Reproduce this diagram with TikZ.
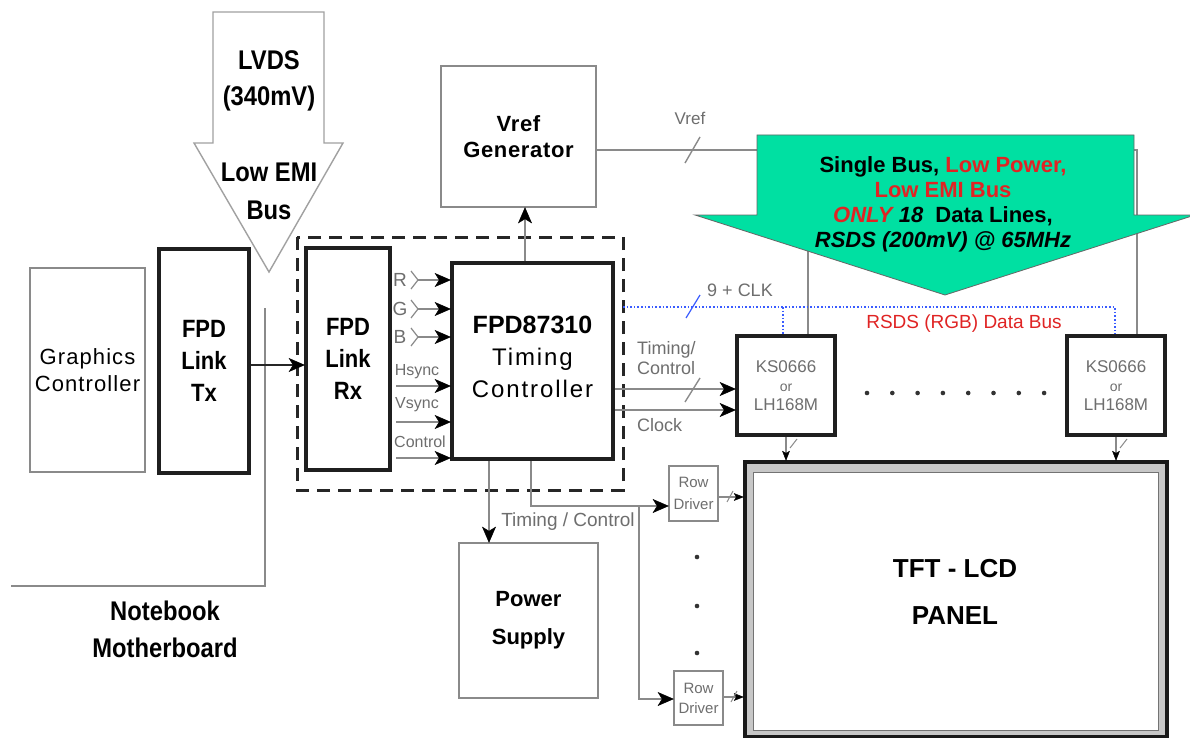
\documentclass[tikz,border=0pt]{standalone}
\usepackage{fontspec}
\setmainfont{Liberation Sans}
\newfontfamily\nsans[FakeStretch=0.88]{Liberation Sans}
\newfontfamily\wsans[LetterSpace=3]{Liberation Sans}
\usetikzlibrary{arrows.meta}
\definecolor{lgrey}{HTML}{8A8A8A}
\definecolor{tgrey}{HTML}{6E6E6E}
\definecolor{mint}{RGB}{0,224,162}
\definecolor{bred}{HTML}{E02424}
\definecolor{bblue}{HTML}{3A5CFF}
\newcommand{\fsz}[2]{\fontsize{#1pt}{#2pt}\selectfont}
\pgfarrowsdeclare{bigtip}{bigtip}{\pgfarrowsleftextend{-14pt}\pgfarrowsrightextend{1pt}}{%
  \pgfsetdash{}{0pt}\pgfsetlinewidth{0.5pt}%
  \pgfpathmoveto{\pgfpoint{1pt}{0pt}}%
  \pgfpathlineto{\pgfpoint{-14pt}{6.5pt}}%
  \pgfpathlineto{\pgfpoint{-10pt}{0pt}}%
  \pgfpathlineto{\pgfpoint{-14pt}{-6.5pt}}%
  \pgfpathclose\pgfsetfillcolor{black}\pgfsetstrokecolor{black}\pgfusepathqfillstroke}
\pgfarrowsdeclare{smalltip}{smalltip}{\pgfarrowsleftextend{-8pt}\pgfarrowsrightextend{1pt}}{%
  \pgfsetdash{}{0pt}\pgfsetlinewidth{0.4pt}%
  \pgfpathmoveto{\pgfpoint{1pt}{0pt}}%
  \pgfpathlineto{\pgfpoint{-8pt}{3.5pt}}%
  \pgfpathlineto{\pgfpoint{-6pt}{0pt}}%
  \pgfpathlineto{\pgfpoint{-8pt}{-3.5pt}}%
  \pgfpathclose\pgfsetfillcolor{black}\pgfsetstrokecolor{black}\pgfusepathqfillstroke}
\begin{document}
\begin{tikzpicture}[x=1pt,y=-1pt,
  box/.style={draw=lgrey, line width=1.6pt, inner sep=0pt, align=center},
  tbox/.style={draw=black!88, line width=3.5pt, inner sep=0pt, align=center},
  lbl/.style={text=tgrey, inner sep=0pt},
  gline/.style={draw=lgrey, line width=1.6pt},
  arr/.style={gline, -bigtip},
  sarr/.style={gline, line width=1.2pt, -smalltip},
  bline/.style={draw=black!85, line width=2.8pt},
  slash/.style={draw=lgrey, line width=1.4pt},
  bdot/.style={draw=bblue, line width=1.6pt, dotted},
]
\useasboundingbox[fill=white] (0,0) rectangle (1190,738);

% ---- background Vref lines (behind green arrow)
\node[box, minimum width=155pt, minimum height=141pt, font=\wsans\bfseries\fsz{22}{26}] (vref) at (518.5,136.5) {Vref\\Generator};
\node[tbox, minimum width=98pt, minimum height=99pt, text=tgrey, font=\fsz{17}{19}] (ksL) at (786,385.5) {KS0666\\{\fsz{14}{19}or}\\LH168M};
\node[tbox, minimum width=98pt, minimum height=99pt, text=tgrey, font=\fsz{17}{19}] (ksR) at (1116,385.5) {KS0666\\{\fsz{14}{19}or}\\LH168M};
\draw[gline] (vref.east |- 0,150) -- (1137,150) -- (1137,0 |- ksR.north);
\draw[gline] (808,150) -- (808,0 |- ksL.north);
\draw[slash] (685,163) -- (700,137);
\node[lbl, font=\fsz{17}{20}] (vreflbl) at (690,118) {Vref};

% ---- green arrow
\draw[fill=mint, draw=black!60, line width=0.8pt] (757,135) -- (1134,135) -- (1134,215) -- (1195,215) -- (945,295) -- (695,215) -- (757,215) -- cycle;
\node[font=\bfseries\fsz{22}{25}, align=center, inner sep=0pt] (gtxt) at (943,204)
  {Single Bus, \textcolor{bred}{Low Power,}\\\textcolor{bred}{Low EMI Bus}\\\textcolor{bred}{\itshape ONLY} {\itshape 18}\ \ Data Lines,\\\itshape RSDS (200mV) @ 65MHz};

% ---- LVDS arrow
\draw[draw=lgrey!80, line width=1.4pt] (213,12) -- (324,12) -- (324,143) -- (343,143) -- (269,272) -- (194,143) -- (213,143) -- cycle;
\node[font=\nsans\bfseries\fsz{27}{36}, align=center, inner sep=0pt] (lvds) at (269,81) {LVDS\\(340mV)};
\node[font=\nsans\bfseries\fsz{27}{38}, align=center, inner sep=0pt] (lemi) at (269,191) {Low EMI\\Bus};

% ---- motherboard
\draw[gline] (265,308) -- (265,586) -- (11,586);
\node[font=\nsans\bfseries\fsz{27}{37}, align=center, inner sep=0pt] (nb) at (165,629) {Notebook\\Motherboard};

\node[box, minimum width=115pt, minimum height=204pt, font=\addfontfeature{LetterSpace=5}\fsz{22}{27}] (gc) at (87.5,370) {Graphics\\Controller};
\node[tbox, minimum width=90pt, minimum height=224pt, font=\nsans\bfseries\fsz{25}{32}] (tx) at (204,361) {FPD\\Link\\Tx};

% ---- dashed box and inner blocks
\draw[draw=black!85, line width=3pt, dash pattern=on 13pt off 8pt] (297,237) rectangle (623,490);
\node[tbox, minimum width=84pt, minimum height=222pt, font=\nsans\bfseries\fsz{25}{32}] (rx) at (348,359) {FPD\\Link\\Rx};
\node[tbox, minimum width=161pt, minimum height=196pt] (tc) at (532.5,361) {};
\node[font=\addfontfeature{LetterSpace=8}\fsz{24}{32}, align=center, inner sep=0pt] (tctxt) at (532.5,357) {{\bfseries\addfontfeature{LetterSpace=0}\fsz{25}{32}FPD87310}\\Timing\\Controller};

\draw[bline, -bigtip] (tx.east |- 0,365) -- (rx.west |- 0,365);

% R G B
\foreach \c/\yy in {R/280,G/309,B/337}{
  \node[lbl, font=\fsz{19}{20}] at (400,\yy) {\c};
  \draw[slash, line width=1.2pt] (411,\yy-9) -- (418,\yy) -- (411,\yy+9);
  \draw[arr] (418,\yy) -- (tc.west |- 0,\yy);
}
\node[lbl, font=\fsz{16}{18}] (hs) at (417,372) {Hsync};
\node[lbl, font=\fsz{16}{18}] (vs) at (417,405) {Vsync};
\node[lbl, font=\fsz{16}{18}] (ct) at (420,442) {Control};
\draw[arr] (396,386) -- (tc.west |- 0,386);
\draw[arr] (396,422) -- (tc.west |- 0,422);
\draw[arr] (396,458) -- (tc.west |- 0,458);

% TC -> Vref
\draw[arr] (tc.north -| 525,0) -- (525,0 |- vref.south);

% RSDS data bus
\draw[bdot] (623,307) -- (1115,307) -- (1115,0 |- ksR.north);
\draw[bdot] (783,307) -- (783,0 |- ksL.north);
\draw[draw=bblue, line width=1.2pt] (686,318) -- (700,295);
\node[lbl, font=\fsz{18}{20}] (clk) at (740,290) {9 + CLK};
\node[text=bred, inner sep=0pt, font=\fsz{19}{20}] (rsds) at (964,324) {RSDS (RGB) Data Bus};

% Timing/Control and Clock
\node[lbl, font=\fsz{18}{20}, align=left, anchor=west] (tclbl) at (637,358) {Timing/\\Control};
\node[lbl, font=\fsz{18}{20}, anchor=west] (clklbl) at (637,425) {Clock};
\draw[arr] (tc.east |- 0,389) -- (ksL.west |- 0,389);
\draw[arr] (tc.east |- 0,410) -- (ksL.west |- 0,410);
\draw[slash] (685,402) -- (700,378);

% dots between column drivers
\foreach \i in {0,...,7} \fill[black!80] (867+\i*25.3,393) circle (2.3pt);

% power supply and row drivers
\node[box, minimum width=139pt, minimum height=155pt, font=\bfseries\fsz{22}{38}] (ps) at (528.5,620.5) {Power\\Supply};
\node[box, minimum width=49pt, minimum height=55pt, text=tgrey, font=\fsz{15}{22}] (rd1) at (693.5,493.5) {Row\\Driver};
\node[box, minimum width=49pt, minimum height=54pt, text=tgrey, font=\fsz{15}{20}] (rd2) at (698.5,698) {Row\\Driver};
\foreach \yy in {557,606,653} \fill[black!80] (697,\yy) circle (2.3pt);

\draw[arr] (tc.south -| 489,0) -- (489,0 |- ps.north);
\draw[arr] (tc.south -| 531,0) -- (531,506) -- (rd1.west |- 0,506);
\draw[arr] (639,506) -- (639,699) -- (rd2.west |- 0,699);
\node[lbl, font=\fsz{19}{20}] (tclbl2) at (568,522) {Timing / Control};

% LCD panel
\node[draw=black!90, line width=3.5pt, fill=black!22, minimum width=422pt, minimum height=275pt, inner sep=0pt] (lcd) at (956,599.5) {};
\draw[draw=black!55, line width=1pt, fill=white] (753,472) rectangle (1158,730);
\node[font=\bfseries\fsz{26}{47}, align=center, inner sep=0pt] (lcdtxt) at (955,592) {TFT - LCD\\PANEL};

% driver outputs to panel
\draw[sarr] (rd1.east |- 0,497) -- (lcd.west |- 0,497);
\draw[slash, line width=1pt] (727,502) -- (733,491);
\draw[sarr] (rd2.east |- 0,697) -- (lcd.west |- 0,697);
\draw[slash, line width=1pt] (731,702) -- (737,691);
\draw[sarr] (ksL.south) -- (ksL.south |- lcd.north);
\draw[slash, line width=1pt] (790,448) -- (797,439);
\draw[sarr] (ksR.south) -- (ksR.south |- lcd.north);
\draw[slash, line width=1pt] (1120,448) -- (1127,439);
\end{tikzpicture}
\end{document}
